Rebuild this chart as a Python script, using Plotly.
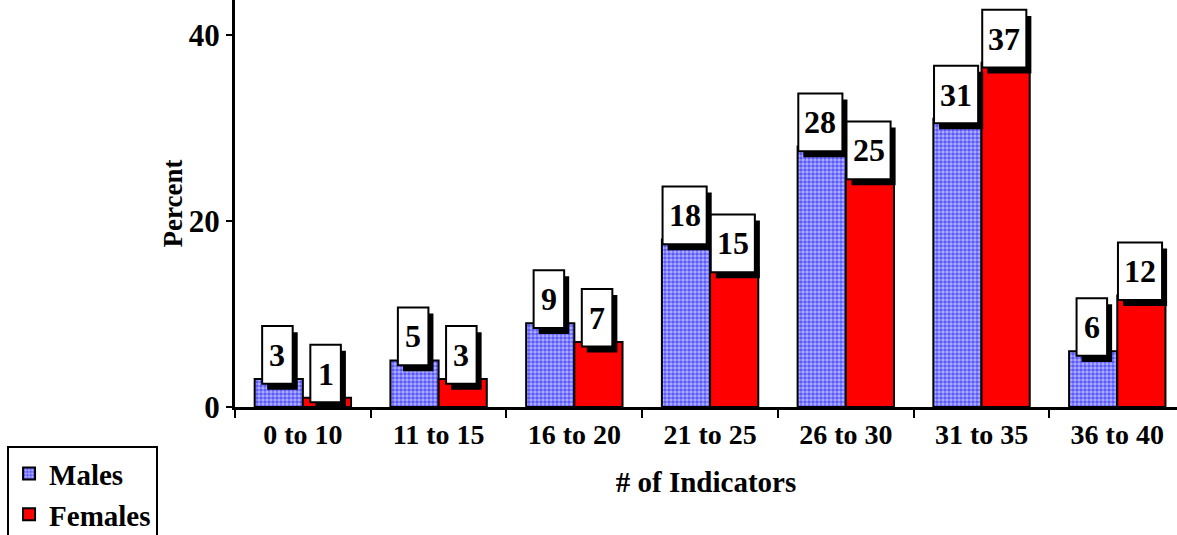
import plotly.graph_objects as go

categories = ["0 to 10", "11 to 15", "16 to 20", "21 to 25", "26 to 30", "31 to 35", "36 to 40"]
males = [3, 5, 9, 18, 28, 31, 6]
females = [1, 3, 7, 15, 25, 37, 12]
y_ticks = [0, 20, 40]

FONT = "Liberation Serif, Times New Roman, serif"
BARGAP = 0.29

fig = go.Figure()
fig.add_trace(go.Bar(
    x=categories, y=males, name="Males",
    marker=dict(color="#5050ff", line=dict(color="black", width=2),
                pattern=dict(shape=".", fgcolor="#0000ff", bgcolor="#b4b4ff", size=4, solidity=0.6)),
))
fig.add_trace(go.Bar(
    x=categories, y=females, name="Females",
    marker=dict(color="#ff0000", line=dict(color="black", width=2)),
))

shapes = []
annotations = []
half = (1 - BARGAP) / 4
box_h = 6.2
for s, vals in enumerate([males, females]):
    for i, v in enumerate(vals):
        box_w = 0.225 if len(str(v)) == 1 else 0.325
        cx = i + (-half if s == 0 else half) - 0.01
        y0 = v - 0.5
        shapes.append(dict(type="rect", xref="x", yref="y", x0=cx - box_w / 2 + 0.037, x1=cx + box_w / 2 + 0.037,
                           y0=y0 - 0.65, y1=y0 + box_h - 0.65, fillcolor="black", line=dict(width=0), layer="above"))
        shapes.append(dict(type="rect", xref="x", yref="y", x0=cx - box_w / 2, x1=cx + box_w / 2,
                           y0=y0, y1=y0 + box_h, fillcolor="white", line=dict(color="black", width=2), layer="above"))
        annotations.append(dict(x=cx, y=y0 + box_h / 2, xref="x", yref="y", text=str(v), showarrow=False,
                                font=dict(family=FONT, size=32, color="black", weight="bold"),
                                xanchor="center", yanchor="middle"))

fig.update_layout(
    width=1177, height=535,
    margin=dict(l=235, r=0, t=0, b=128, autoexpand=False),
    paper_bgcolor="white", plot_bgcolor="white",
    barmode="group", bargap=BARGAP, bargroupgap=0,
    font=dict(family=FONT, color="black"),
    shapes=shapes, annotations=annotations,
    showlegend=True,
    legend=dict(xref="container", yref="container", x=0.006, y=0.166, xanchor="left", yanchor="top",
                bgcolor="white", bordercolor="black", borderwidth=2,
                font=dict(family=FONT, size=29, color="black", weight="bold"),
                itemwidth=30, tracegroupgap=0),
    xaxis=dict(
        type="category", range=[-0.5, 6.44], tickson="boundaries", ticks="outside", ticklen=8, tickwidth=2,
        tickcolor="black", showline=True, linecolor="black", linewidth=3, showgrid=False, automargin=False,
        tickfont=dict(family=FONT, size=28, color="black", weight="bold"),
        title=dict(text="# of Indicators", font=dict(family=FONT, size=29, color="black", weight="bold"), standoff=24),
    ),
    yaxis=dict(
        range=[0, 43.76], tickvals=y_ticks, ticks="outside", ticklen=6, tickwidth=2, tickcolor="black",
        showline=True, linecolor="black", linewidth=3, showgrid=False, zeroline=False, automargin=False,
        tickfont=dict(family=FONT, size=31, color="black", weight="bold"),
        title=dict(text="Percent", font=dict(family=FONT, size=27, color="black", weight="bold"), standoff=50),
    ),
)

fig.write_html("out.html", config={"displayModeBar": False},
               post_script="document.body.style.margin='0';document.body.style.overflow='hidden';")
